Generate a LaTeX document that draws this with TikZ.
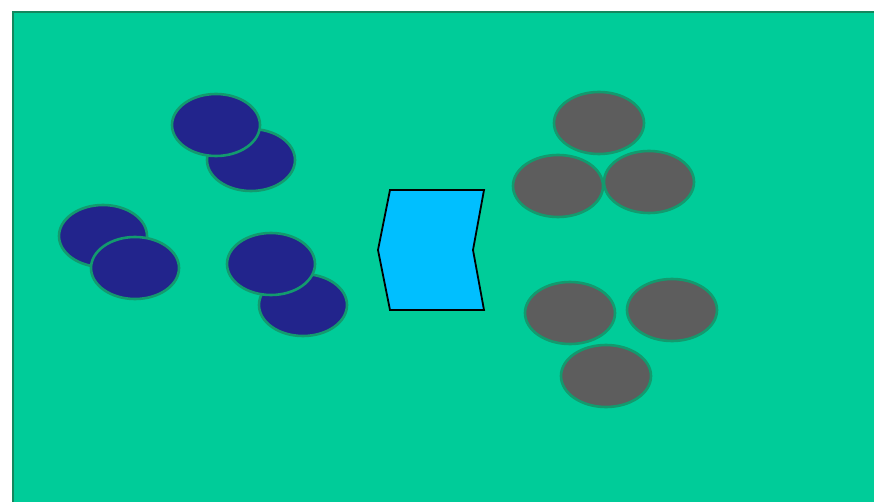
\documentclass[tikz,border=0pt]{standalone}
\begin{document}
\begin{tikzpicture}[x=1pt,y=-1pt,
  bluedisc/.style={fill=navy,draw=rim,line width=2.6pt},
  graydisc/.style={fill=stone,draw=rim,line width=2.6pt}]
\definecolor{field}{HTML}{00CC99}
\definecolor{navy}{HTML}{22248C}
\definecolor{stone}{HTML}{5D5D5D}
\definecolor{rim}{HTML}{139A6E}
\definecolor{sky}{HTML}{00BFFF}
\definecolor{edge}{HTML}{14875E}
\useasboundingbox (0,0) rectangle (874,502);
\fill[white] (0,0) rectangle (874,502);
\fill[field,draw=edge,line width=2pt] (13,12) rectangle (880,510);
% blue pairs
\draw[bluedisc] (251,160) ellipse [x radius=44,y radius=31];
\draw[bluedisc] (216,125) ellipse [x radius=44,y radius=31];
\draw[bluedisc] (103,236) ellipse [x radius=44,y radius=31];
\draw[bluedisc] (135,268) ellipse [x radius=44,y radius=31];
\draw[bluedisc] (303,305) ellipse [x radius=44,y radius=31];
\draw[bluedisc] (271,264) ellipse [x radius=44,y radius=31];
% gray
\draw[graydisc] (599,123) ellipse [x radius=45,y radius=31];
\draw[graydisc] (558,186) ellipse [x radius=45,y radius=31];
\draw[graydisc] (649,182) ellipse [x radius=45,y radius=31];
\draw[graydisc] (570,313) ellipse [x radius=45,y radius=31];
\draw[graydisc] (672,310) ellipse [x radius=45,y radius=31];
\draw[graydisc] (606,376) ellipse [x radius=45,y radius=31];
% cyan shape
\draw[fill=sky,draw=black,line width=1.8pt,line join=miter]
  (390,190) -- (484,190) -- (473,250) -- (484,310) -- (390,310) -- (378,250) -- cycle;
\end{tikzpicture}
\end{document}
